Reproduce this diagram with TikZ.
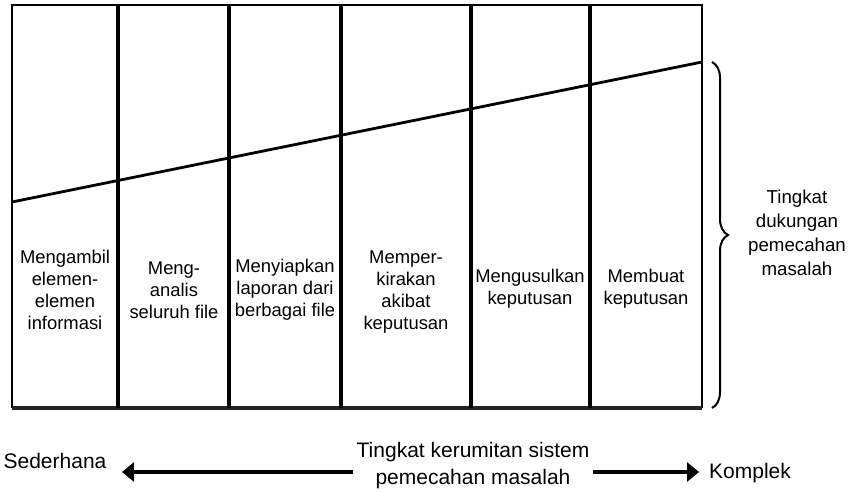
\documentclass[tikz,border=0pt]{standalone}
\usepackage{fontspec}
\setmainfont{Liberation Sans}
\usetikzlibrary{decorations.pathreplacing,arrows.meta}
\begin{document}
\begin{tikzpicture}[x=1pt,y=-1pt,
  cell/.style={align=center,inner sep=0pt,font=\fontsize{18.4}{22}\selectfont},
  side/.style={align=center,inner sep=0pt,font=\fontsize{18.7}{24}\selectfont},
  axis/.style={align=center,inner sep=0pt,font=\fontsize{21}{27}\selectfont},
  divider/.style={line width=3.2pt},
  frame/.style={line width=2.5pt},
  base/.style={line width=4pt,black!85},
  slope/.style={line width=2.8pt},
  arr/.style={line width=4pt,-{Triangle[length=12pt,width=19pt]}},
  curly/.style={line width=2pt,decorate,decoration={brace,amplitude=16pt}}]
\useasboundingbox (0,0) rectangle (849,491);
% frame corners
\coordinate (tl) at (12,5);
\coordinate (tr) at (702,5);
\coordinate (bl) at (12,408);
\coordinate (br) at (702,408);
\coordinate (sl) at (12,202);
\coordinate (sr) at (702,62);
% frame
\draw[frame] (bl) -- (tl) -- (tr) -- (br);
\draw[base] (bl) -- (br);
% dividers
\foreach \x/\n in {118/a,229/b,341/c,471/d,590/e}{
  \coordinate (t\n) at (\x,5);
  \coordinate (b\n) at (\x,408);
  \draw[divider] (t\n) -- (b\n);
}
% slope line
\draw[slope] (sl) -- (sr);
% cell texts
\node[cell] (c1) at (65,290) {Mengambil\\elemen-\\elemen\\informasi};
\node[cell] (c2) at (174,290) {Meng-\\analis\\seluruh file};
\node[cell] (c3) at (285,290) {Menyiapkan\\laporan dari\\berbagai file};
\node[cell] (c4) at (406,292) {Memper-\\kirakan\\akibat\\keputusan};
\node[cell] (c5) at (530,289) {Mengusulkan\\keputusan};
\node[cell] (c6) at (646,289) {Membuat\\keputusan};
% brace
\coordinate (bt) at (712,62);
\coordinate (bb) at (712,408);
\draw[curly] (bt) -- (bb);
\node[side] (sup) at (797,233) {Tingkat\\dukungan\\pemecahan\\masalah};
% bottom axis
\node[axis] (mid) at (473,466) {Tingkat kerumitan sistem\\pemecahan masalah};
\node[axis,anchor=base] (sed) at (55,468) {Sederhana};
\node[axis,anchor=base] (kom) at (750,478) {Komplek};
\coordinate (la) at (353,472);
\coordinate (lt) at (122,472);
\coordinate (ra) at (593,472);
\coordinate (rt) at (699,472);
\draw[arr] (la) -- (lt);
\draw[arr] (ra) -- (rt);
\end{tikzpicture}
\end{document}
